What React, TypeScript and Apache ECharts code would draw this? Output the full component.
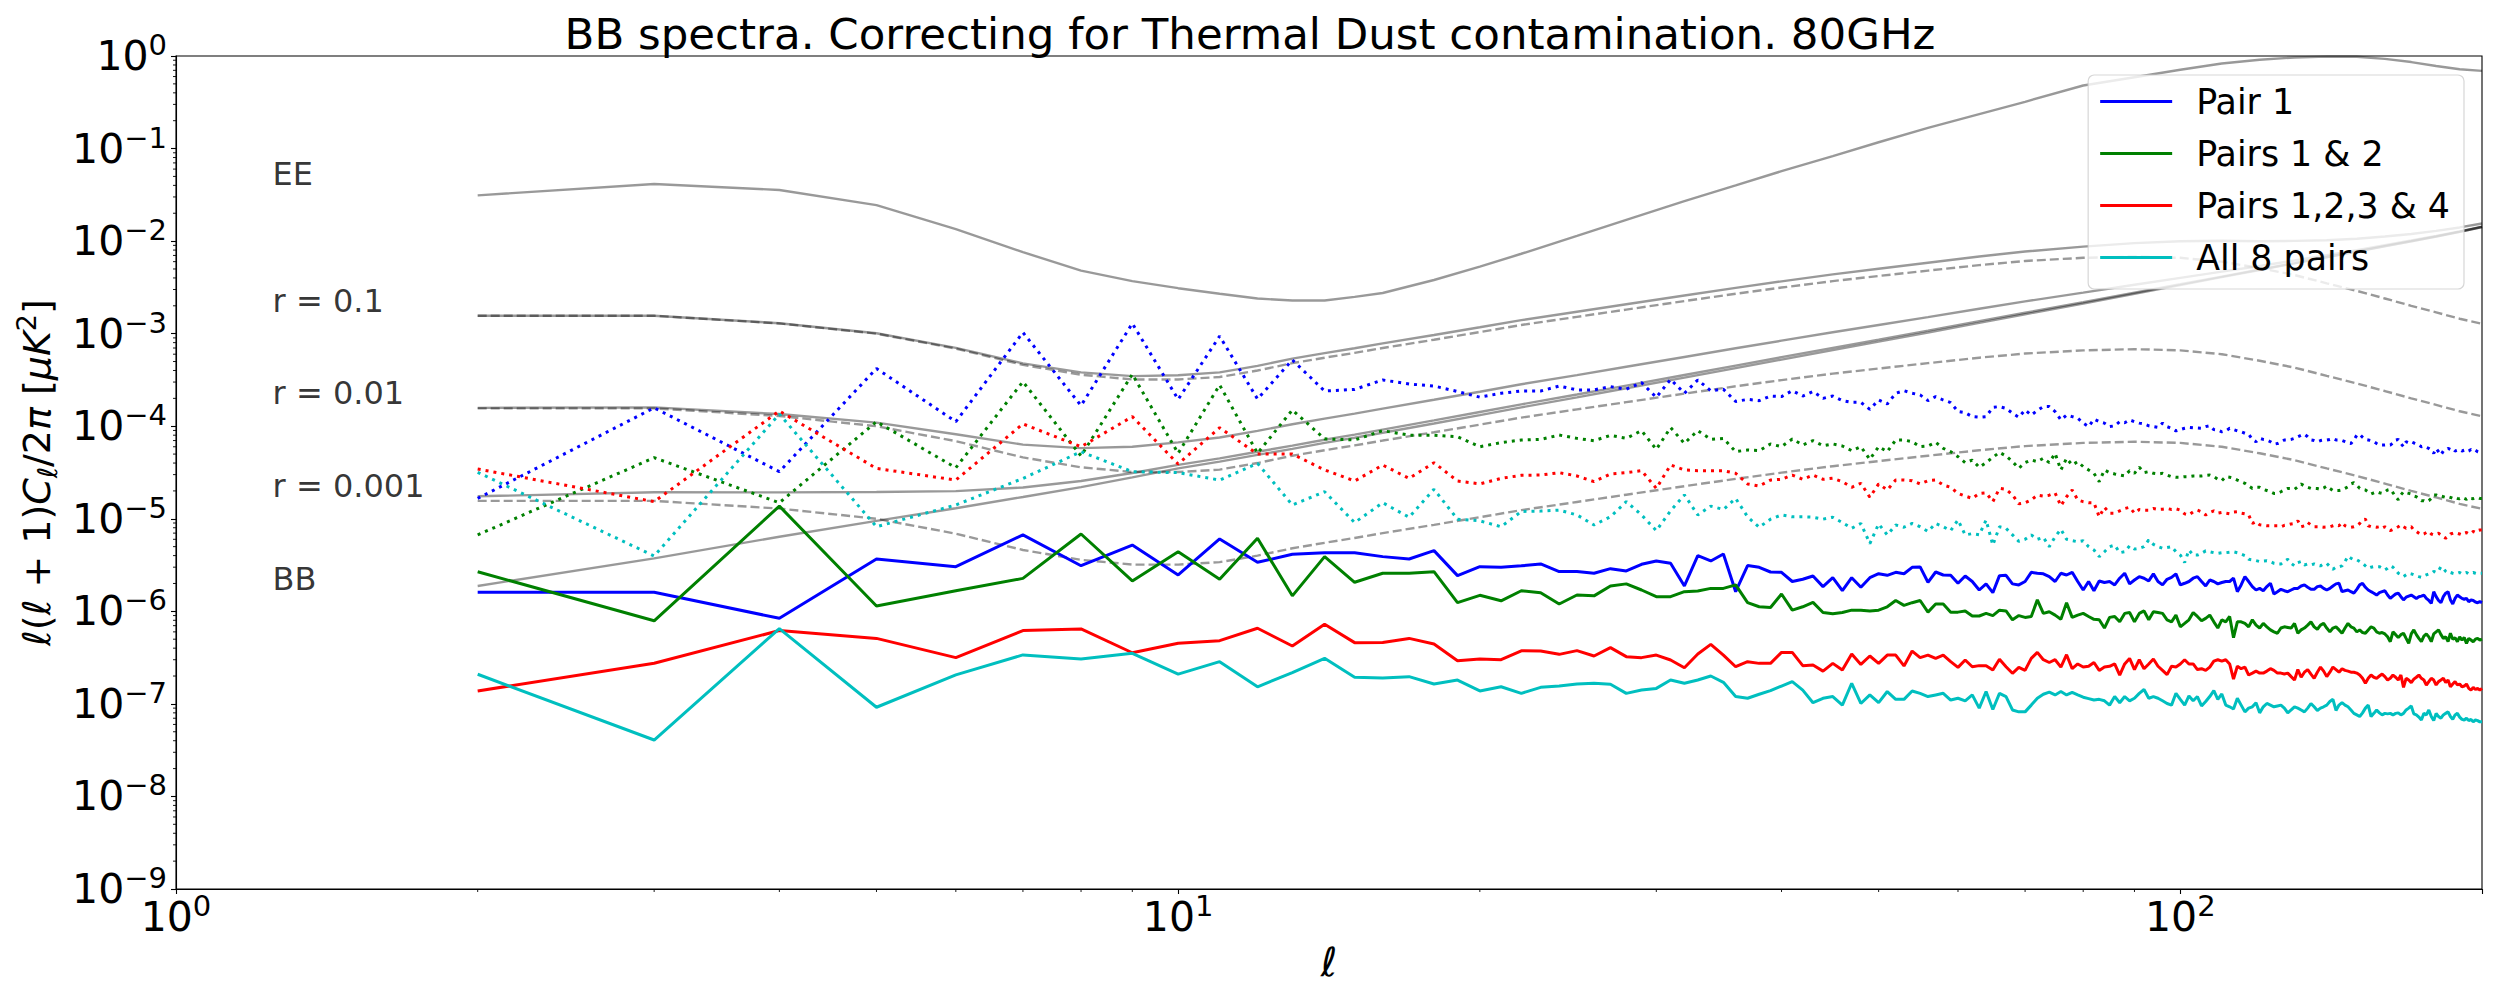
import React, { useEffect, useRef } from 'react';
import * as echarts from 'echarts';

const FONT = 'DejaVu Sans';

// multipoles of the measured spectra: l = 2 .. 200
const ELL: number[] = [];
for (let l = 2; l <= 200; l++) ELL.push(l);

// ---------- theory curves (sampled multipoles) ----------
const THEORY_ELL = [2,3,4,5,6,7,8,9,10,11,12,13,14,15,16,18,20,22,25,28,32,36,40,45,50,56,63,70,80,90,100,110,120,130,140,150,160,170,180,190,200];
const EE_TH = [0.0312,0.0414,0.0357,0.0245,0.0135,0.0076,0.0048,0.0037,0.0031,0.0027,0.0024,0.00228,0.00228,0.0025,0.00275,
  0.0038,0.0053,0.0073,0.0114,0.017,0.027,0.040,0.057,0.083,0.117,0.167,0.236,0.32,
  0.48,0.59,0.71,0.83,0.91,0.965,0.985,0.98,0.93,0.86,0.78,0.72,0.69];
const BB_LENS = [1.88e-6,3.74e-6,6.4e-6,9.5e-6,1.3e-5,1.72e-5,2.2e-5,2.8e-5,3.5e-5,4.15e-5,4.9e-5,5.7e-5,6.6e-5,7.5e-5,8.5e-5,
  1.07e-4,1.32e-4,1.6e-4,2.05e-4,2.57e-4,3.35e-4,4.25e-4,5.25e-4,6.65e-4,8.2e-4,1.03e-3,1.31e-3,1.62e-3,
  2.12e-3,2.7e-3,3.35e-3,4.08e-3,4.88e-3,5.75e-3,6.7e-3,7.7e-3,8.8e-3,9.95e-3,1.12e-2,1.26e-2,1.42e-2];
const BB_TENS_R01 = [1.56e-3,1.56e-3,1.29e-3,1.0e-3,6.9e-4,4.6e-4,3.6e-4,3.2e-4,3.2e-4,3.4e-4,4.0e-4,4.8e-4,5.5e-4,6.2e-4,7.0e-4,
  8.6e-4,1.04e-3,1.24e-3,1.52e-3,1.82e-3,2.25e-3,2.7e-3,3.15e-3,3.7e-3,4.2e-3,4.8e-3,5.5e-3,6.1e-3,
  6.6e-3,6.8e-3,6.6e-3,6.0e-3,5.1e-3,4.3e-3,3.5e-3,2.9e-3,2.4e-3,2.0e-3,1.7e-3,1.45e-3,1.28e-3];
const BB_TOT_R01 = [1.562e-3,1.564e-3,1.296e-3,1.01e-3,7.03e-4,4.77e-4,3.82e-4,3.48e-4,3.55e-4,3.815e-4,4.49e-4,5.37e-4,6.16e-4,6.95e-4,7.85e-4,
  9.67e-4,1.172e-3,1.40e-3,1.725e-3,2.077e-3,2.585e-3,3.125e-3,3.675e-3,4.365e-3,5.02e-3,5.83e-3,6.81e-3,7.72e-3,
  8.72e-3,9.5e-3,9.95e-3,1.008e-2,9.98e-3,1.005e-2,1.02e-2,1.06e-2,1.12e-2,1.195e-2,1.29e-2,1.405e-2,1.548e-2];
const BB_TENS_R001 = [1.56e-4,1.56e-4,1.29e-4,1.0e-4,6.9e-5,4.6e-5,3.6e-5,3.2e-5,3.2e-5,3.4e-5,4.0e-5,4.8e-5,5.5e-5,6.2e-5,7.0e-5,
  8.6e-5,1.04e-4,1.24e-4,1.52e-4,1.82e-4,2.25e-4,2.7e-4,3.15e-4,3.7e-4,4.2e-4,4.8e-4,5.5e-4,6.1e-4,
  6.6e-4,6.8e-4,6.6e-4,6.0e-4,5.1e-4,4.3e-4,3.5e-4,2.9e-4,2.4e-4,2.0e-4,1.7e-4,1.45e-4,1.28e-4];
const BB_TOT_R001 = [1.579e-4,1.597e-4,1.354e-4,1.095e-4,8.2e-5,6.32e-5,5.8e-5,6.0e-5,6.7e-5,7.55e-5,8.9e-5,1.05e-4,1.21e-4,1.37e-4,1.55e-4,
  1.93e-4,2.36e-4,2.84e-4,3.57e-4,4.39e-4,5.6e-4,6.95e-4,8.4e-4,1.035e-3,1.24e-3,1.51e-3,1.86e-3,2.23e-3,
  2.78e-3,3.38e-3,4.01e-3,4.68e-3,5.39e-3,6.18e-3,7.05e-3,7.99e-3,9.04e-3,1.015e-2,1.137e-2,1.2745e-2,1.4328e-2];
const BB_TENS_R0001 = [1.56e-5,1.56e-5,1.29e-5,1.0e-5,6.9e-6,4.6e-6,3.6e-6,3.2e-6,3.2e-6,3.4e-6,4.0e-6,4.8e-6,5.5e-6,6.2e-6,7.0e-6,
  8.6e-6,1.04e-5,1.24e-5,1.52e-5,1.82e-5,2.25e-5,2.7e-5,3.15e-5,3.7e-5,4.2e-5,4.8e-5,5.5e-5,6.1e-5,
  6.6e-5,6.8e-5,6.6e-5,6.0e-5,5.1e-5,4.3e-5,3.5e-5,2.9e-5,2.4e-5,2.0e-5,1.7e-5,1.45e-5,1.28e-5];
const BB_TOT_R0001 = [1.75e-5,1.934e-5,1.93e-5,1.95e-5,1.99e-5,2.18e-5,2.56e-5,3.12e-5,3.82e-5,4.49e-5,5.3e-5,6.18e-5,7.15e-5,8.12e-5,9.2e-5,
  1.156e-4,1.424e-4,1.724e-4,2.2e-4,2.75e-4,3.575e-4,4.52e-4,5.57e-4,7.02e-4,8.62e-4,1.078e-3,1.365e-3,1.681e-3,
  2.186e-3,2.768e-3,3.416e-3,4.14e-3,4.93e-3,5.79e-3,6.735e-3,7.73e-3,8.82e-3,9.97e-3,1.122e-2,1.261e-2,1.421e-2];

// ---------- residual spectra, one value per l (rows: l=2-9, 10-19, ..., 190-199, 200) ----------
const U6 = 1e-6, U7 = 1e-7, U5 = 1e-5;
// Pair 1, solid (units 1e-6)
const PAIR1_SOLID = [
  1.61,1.61,0.84,3.68,3.04,6.7,3.11,5.2,
  2.47,6.05,3.39,4.13,4.3,4.3,3.9,3.68,4.53,2.43,
  3.04,3.0,3.1,3.25,2.69,2.69,2.58,2.89,2.73,3.22,
  3.50,3.30,1.88,4.00,3.50,4.17,1.63,3.12,2.99,2.66,
  2.64,2.10,2.22,2.41,1.85,2.31,1.67,2.31,1.82,2.31,
  2.55,2.45,2.64,2.55,2.99,3.02,2.06,2.66,2.47,2.45,
  2.01,2.41,2.10,1.70,1.98,1.59,2.43,2.45,1.98,1.93,
  2.10,2.64,2.58,2.54,2.37,2.10,2.58,2.47,2.64,2.10,
  1.70,2.10,1.67,2.13,2.05,2.10,1.93,2.28,2.58,1.98,
  2.18,2.37,2.28,2.13,2.54,2.10,1.93,2.22,2.33,2.54,
  1.93,2.01,2.10,2.28,2.37,2.10,1.88,2.18,2.10,1.98,
  2.05,2.10,2.10,2.28,1.63,1.93,2.37,2.10,1.85,1.70,
  1.77,1.67,1.85,2.01,1.54,1.63,1.73,1.67,1.63,1.70,
  1.77,1.77,1.88,1.93,1.82,1.73,1.73,1.85,1.88,1.77,
  1.70,1.77,1.88,1.98,2.01,1.63,1.67,1.70,1.63,1.57,
  1.73,1.93,2.01,1.82,1.70,1.63,1.57,1.50,1.59,1.63,
  1.67,1.50,1.38,1.46,1.54,1.57,1.44,1.33,1.42,1.46,
  1.50,1.44,1.38,1.44,1.46,1.50,1.38,1.31,1.22,1.63,
  1.44,1.31,1.24,1.44,1.57,1.63,1.33,1.20,1.38,1.50,
  1.44,1.38,1.35,1.38,1.27,1.33,1.31,1.26,1.24,1.27,
  1.24];
// Pairs 1 & 2, solid (units 1e-6)
const PAIRS12_SOLID = [
  2.68,0.79,13.7,1.14,1.67,2.27,6.85,2.13,
  4.4,2.22,6.15,1.47,3.9,2.06,2.58,2.58,2.68,1.24,
  1.49,1.3,1.67,1.59,1.20,1.50,1.47,1.88,1.98,1.70,
  1.44,1.44,1.63,1.66,1.77,1.77,1.93,1.24,1.12,1.10,
  1.54,1.03,1.12,1.25,0.97,0.94,0.97,1.03,1.03,1.01,
  1.03,1.12,1.31,1.16,1.24,1.31,0.98,1.20,1.20,0.98,
  0.98,1.01,0.89,0.89,0.95,0.90,1.03,1.01,0.81,0.90,
  0.86,0.88,1.33,0.95,0.99,0.91,0.82,1.24,0.86,0.91,
  0.95,0.88,0.82,0.81,0.66,0.86,0.88,0.77,0.95,0.97,
  0.77,0.95,1.01,0.81,0.99,0.97,0.95,0.81,0.77,0.91,
  0.68,0.74,0.81,0.97,0.88,0.79,0.84,0.91,0.77,0.66,
  0.81,0.77,0.88,0.52,0.77,0.77,0.74,0.68,0.81,0.71,
  0.66,0.74,0.68,0.63,0.60,0.58,0.66,0.68,0.67,0.66,
  0.74,0.58,0.63,0.66,0.71,0.77,0.68,0.64,0.71,0.74,
  0.66,0.60,0.66,0.68,0.63,0.58,0.66,0.74,0.68,0.66,
  0.60,0.63,0.59,0.58,0.63,0.68,0.66,0.60,0.58,0.59,
  0.57,0.53,0.47,0.60,0.56,0.52,0.56,0.58,0.51,0.45,
  0.57,0.63,0.56,0.51,0.47,0.54,0.57,0.53,0.47,0.57,
  0.60,0.63,0.56,0.51,0.53,0.47,0.58,0.50,0.52,0.47,
  0.53,0.49,0.52,0.45,0.51,0.49,0.47,0.50,0.51,0.49,
  0.50];
// Pairs 1,2,3 & 4, solid (units 1e-7)
const PAIRS1234_SOLID = [
  1.38,2.75,6.2,5.1,3.16,6.2,6.45,3.57,
  4.52,4.82,6.56,4.22,7.25,4.59,4.6,5.1,4.44,2.93,
  3.05,3.0,3.75,3.72,3.43,3.76,3.29,4.05,3.24,3.16,
  3.37,2.98,2.46,3.46,4.40,3.37,2.52,2.86,2.74,2.74,
  3.60,3.60,2.59,2.63,2.26,2.74,2.32,3.46,2.67,3.29,
  2.74,3.37,3.37,2.57,3.72,3.16,3.37,3.10,3.37,2.86,
  2.48,2.98,2.52,2.59,2.59,2.32,3.03,2.52,2.14,2.48,
  2.3,3.1,3.6,3.0,2.8,3.0,2.5,3.4,2.4,2.7,
  2.5,2.55,2.8,2.3,2.5,2.55,2.7,2.05,2.7,3.1,
  2.35,3.0,2.4,2.7,3.05,2.55,2.3,2.07,2.55,2.5,
  2.7,3.0,2.7,2.7,2.35,2.4,2.3,2.5,2.9,3.0,
  2.9,3.0,2.7,1.85,2.55,2.4,2.5,2.05,2.15,2.26,
  2.15,2.15,2.26,2.4,2.3,2.15,2.15,2.1,2.15,1.97,
  1.81,2.35,1.94,2.2,2.35,2.1,1.89,2.2,2.5,2.26,
  1.97,2.2,2.5,2.35,2.2,2.4,2.3,2.26,2.2,2.2,
  2.15,2.05,1.89,1.67,1.89,2.05,1.94,1.89,2.0,2.1,
  1.97,1.81,1.89,2.05,1.94,1.81,2.05,1.51,1.89,1.81,
  1.70,1.85,1.94,2.05,1.89,1.81,1.60,1.74,1.89,1.81,
  1.60,1.74,1.81,1.89,1.70,1.81,1.53,1.64,1.74,1.60,
  1.64,1.53,1.56,1.64,1.47,1.41,1.51,1.43,1.47,1.41,
  1.47];
// All 8 pairs, solid (units 1e-7)
const ALL8_SOLID = [
  2.09,0.407,6.5,0.92,2.06,3.38,3.05,3.52,
  2.1,2.86,1.53,2.18,3.11,1.94,1.9,1.97,1.64,1.81,
  1.38,1.53,1.30,1.51,1.56,1.64,1.67,1.63,1.30,1.41,
  1.47,1.81,1.67,1.81,2.00,1.71,1.20,1.15,1.27,1.39,
  1.56,1.74,1.41,1.03,1.15,1.20,0.97,1.67,1.01,1.25,
  1.03,1.36,1.12,1.12,1.38,1.30,1.20,1.25,1.30,1.10,
  1.15,1.08,1.25,0.90,1.36,0.87,1.30,1.20,0.86,0.82,
  0.82,0.97,1.15,1.27,1.34,1.25,1.36,1.25,1.33,1.25,
  1.18,1.14,1.10,1.12,1.08,0.97,1.20,1.03,1.20,1.08,
  1.15,1.30,1.43,1.15,1.20,1.15,1.08,1.01,0.97,1.30,
  1.12,0.97,1.22,1.08,1.20,0.95,1.06,1.20,1.39,1.12,
  1.28,0.97,0.93,0.88,1.15,0.97,0.82,0.90,0.93,1.03,
  0.80,0.93,1.01,0.97,0.93,0.95,0.97,0.90,0.80,0.86,
  0.93,0.90,0.86,0.82,0.90,1.01,0.93,0.85,0.90,0.93,
  0.97,1.06,1.12,0.85,0.97,1.03,0.97,0.93,0.86,0.79,
  0.76,0.73,0.80,0.90,0.97,0.73,0.79,0.86,0.80,0.76,
  0.79,0.78,0.79,0.76,0.79,0.80,0.76,0.79,0.86,0.90,
  0.95,0.78,0.76,0.72,0.67,0.79,0.76,0.86,0.73,0.66,
  0.79,0.73,0.70,0.76,0.79,0.82,0.73,0.68,0.76,0.79,
  0.72,0.68,0.67,0.70,0.66,0.68,0.64,0.67,0.66,0.64,
  0.64];
// Pair 1, dotted (units 1e-5)
const PAIR1_DOTTED = [
  1.66,15.8,3.23,42,11.2,103,16.7,129,
  19.5,94,19.7,52,24,25,31.6,28.6,27.2,23.7,
  20.6,22.7,24.0,24.0,27.2,24.7,24.7,26.8,25.1,29.6,
  20.5,32.1,22.7,31.6,24.2,25.1,18.5,19.5,18.9,21.2,
  20.9,24.2,21.2,23.7,20.0,21.2,18.9,18.1,18.1,15.2,
  19.2,17.4,22.7,24.2,22.7,21.8,18.9,20.9,19.2,18.0,
  14.4,14.0,12.7,12.5,12.7,16.0,16.3,15.6,13.8,12.5,
  15.0,13.2,14.8,16.3,16.3,14.4,11.7,13.2,12.7,12.2,
  10.8,9.9,11.9,11.2,10.8,9.9,10.1,11.2,10.9,11.7,
  11.2,10.8,10.6,10.1,9.9,9.7,10.8,9.9,9.5,8.9,
  9.2,9.5,9.7,9.6,9.55,9.5,9.9,10.1,9.2,9.1,
  8.7,8.9,9.5,9.2,8.9,8.7,8.4,8.2,7.2,6.8,
  7.4,7.2,7.1,6.8,6.4,6.5,6.75,7.1,7.1,7.2,
  7.4,7.7,8.0,8.2,7.7,7.1,7.0,6.8,7.0,7.1,
  7.1,7.2,7.35,7.1,7.1,7.0,6.8,6.6,6.5,7.1,
  8.0,8.2,7.6,7.2,7.1,7.0,6.8,6.5,6.25,6.25,
  6.25,6.3,6.25,6.6,7.1,7.2,6.5,6.0,6.8,6.6,
  6.8,6.6,6.4,6.25,6.0,6.1,5.9,5.75,5.5,5.1,
  5.75,5.3,4.9,5.4,5.5,5.75,5.6,5.75,5.4,5.5,
  5.6,5.4,5.5,5.3,5.4,5.6,5.4,5.5,5.3,5.2,
  5.2];
// Pairs 1 & 2, dotted (units 1e-5)
const PAIRS12_DOTTED = [
  0.67,4.57,1.49,11.2,3.56,30.3,4.77,36.4,
  5.1,27.9,5.1,15.0,7.3,7.1,8.95,8.0,8.0,7.7,
  6.0,6.65,7.1,7.21,8.03,7.39,6.98,7.97,7.39,8.96,
  5.62,9.66,6.53,8.96,7.21,7.39,5.31,5.54,5.44,6.43,
  6.01,7.28,6.27,6.98,6.17,6.43,6.11,5.44,6.01,4.39,
  6.01,5.31,7.10,7.10,6.81,6.01,6.11,6.70,5.77,5.31,
  4.69,4.04,4.31,3.60,4.04,4.61,5.22,4.77,4.14,3.51,
  4.04,4.32,4.14,4.51,4.04,5.09,3.37,4.51,3.81,4.14,
  3.66,3.37,3.10,2.52,3.37,3.15,3.05,2.97,2.90,3.31,
  3.10,3.60,3.15,3.23,3.10,3.05,3.10,2.97,2.85,2.81,
  2.81,2.85,2.85,2.90,2.90,2.90,2.94,2.97,2.85,2.67,
  2.58,2.85,2.81,2.74,2.62,2.52,2.42,2.26,2.13,2.19,
  2.19,2.08,2.02,1.96,1.88,1.88,1.96,2.05,2.13,2.12,
  2.08,2.22,2.38,2.26,2.19,2.13,2.13,2.12,2.08,2.15,
  2.26,2.13,2.02,2.02,2.02,2.05,2.13,2.22,2.38,2.45,
  2.32,2.13,2.08,2.05,1.95,1.85,1.91,1.96,1.91,1.88,
  1.95,2.05,2.08,1.91,1.73,1.60,1.81,1.96,1.91,1.88,
  1.85,1.76,1.73,1.66,1.57,1.57,1.53,1.57,1.66,1.81,
  1.81,1.76,1.76,1.73,1.70,1.73,1.70,1.66,1.70,1.66,
  1.65,1.70,1.66,1.62,1.70,1.66,1.65,1.68,1.70,1.66,
  1.66];
// Pairs 1,2,3 & 4, dotted (units 1e-5)
const PAIRS1234_DOTTED = [
  3.45,1.53,14.6,3.5,2.62,10.6,6.0,12.7,
  3.9,9.65,5.0,5.0,3.37,2.56,3.81,2.73,4.04,2.56,
  2.38,2.73,2.95,2.97,3.15,2.90,2.52,3.05,3.15,3.31,
  2.13,3.81,3.37,3.31,3.31,3.31,3.10,2.38,2.26,2.62,
  2.67,2.97,2.67,2.97,2.67,2.74,2.52,2.19,2.42,1.71,
  2.38,2.05,2.62,2.62,2.58,2.38,2.58,2.62,2.32,2.19,
  1.88,1.76,1.66,1.88,1.91,1.53,2.13,2.08,1.81,1.45,
  1.49,1.60,1.80,1.76,1.80,1.90,1.38,1.73,2.05,1.60,
  1.53,1.49,1.49,1.05,1.33,1.15,1.15,1.22,1.29,1.33,
  1.15,1.26,1.24,1.24,1.29,1.26,1.27,1.29,1.26,1.28,
  1.24,1.13,1.10,1.19,1.24,1.19,1.10,1.17,1.22,1.15,
  1.17,1.15,1.13,1.18,1.19,1.15,1.13,1.10,0.89,0.93,
  0.86,0.85,0.84,0.84,0.84,0.84,0.82,0.85,0.86,0.88,
  0.89,0.95,0.82,0.84,0.91,0.86,0.82,0.82,0.82,0.81,
  0.815,0.82,0.84,0.86,0.84,0.91,0.84,0.82,0.81,0.82,
  0.84,0.89,0.97,0.99,0.84,0.82,0.82,0.81,0.82,0.79,
  0.82,0.79,0.745,0.77,0.79,0.82,0.86,0.82,0.79,0.81,
  0.82,0.757,0.73,0.697,0.67,0.685,0.71,0.73,0.685,0.67,
  0.685,0.697,0.67,0.64,0.615,0.64,0.685,0.697,0.71,0.697,
  0.685,0.67,0.697,0.71,0.685,0.697,0.73,0.71,0.745,0.757,
  0.757];
// All 8 pairs, dotted (units 1e-5)
const ALL8_DOTTED = [
  3.18,0.396,13.5,0.82,1.41,2.73,5.3,3.23,
  3.15,2.62,3.97,1.41,1.96,0.91,1.49,1.04,2.08,0.99,
  0.95,0.82,1.2,1.21,1.24,1.10,0.857,1.05,1.53,1.10,
  0.745,1.22,1.81,1.10,1.37,1.26,1.66,1.05,0.81,0.99,
  1.10,1.05,1.05,1.04,0.99,1.04,0.91,0.79,0.89,0.54,
  0.88,0.67,0.857,0.81,0.89,0.82,0.73,0.89,0.82,0.745,
  0.97,0.67,0.69,0.67,0.97,0.52,0.82,0.79,0.67,0.57,
  0.60,0.67,0.60,0.63,0.50,0.64,0.77,0.60,0.58,0.565,
  0.58,0.50,0.46,0.39,0.44,0.50,0.52,0.43,0.44,0.51,
  0.47,0.48,0.50,0.59,0.53,0.50,0.48,0.49,0.50,0.44,
  0.405,0.336,0.46,0.405,0.405,0.424,0.45,0.44,0.43,0.424,
  0.43,0.43,0.435,0.44,0.43,0.415,0.40,0.365,0.36,0.353,
  0.345,0.35,0.353,0.345,0.33,0.325,0.325,0.345,0.365,0.33,
  0.31,0.336,0.345,0.317,0.325,0.317,0.325,0.315,0.31,0.325,
  0.33,0.304,0.285,0.30,0.304,0.31,0.345,0.395,0.375,0.36,
  0.36,0.345,0.33,0.31,0.292,0.30,0.304,0.304,0.304,0.292,
  0.28,0.292,0.31,0.30,0.28,0.258,0.248,0.237,0.248,0.258,
  0.254,0.248,0.242,0.237,0.233,0.242,0.248,0.254,0.258,0.27,
  0.263,0.275,0.304,0.292,0.27,0.258,0.263,0.258,0.254,0.258,
  0.263,0.254,0.258,0.263,0.254,0.258,0.263,0.258,0.254,0.258,
  0.258];

const LEGEND_NAMES = ['Pair 1', 'Pairs 1 & 2', 'Pairs 1,2,3 & 4', 'All 8 pairs'];
const COLORS = ['#0000ff', '#008000', '#ff0000', '#00bfbf'];

// text annotations (data coordinates, baseline-left)
const ANNOT_TEXT = ['EE', 'r = 0.1', 'r = 0.01', 'r = 0.001', 'BB'];
const ANNOT_Y = [4e-2, 1.7e-3, 1.7e-4, 1.7e-5, 1.7e-6];
const ANNOT_X = 1.25;

// tick positions
const MINOR_MANTISSAS = [2, 3, 4, 5, 6, 7, 8, 9];
const X_MINOR_DECADES = [0, 1];
const Y_MINOR_DECADES = [-9, -8, -7, -6, -5, -4, -3, -2, -1];
const X_MIN = 1, X_MAX = 200, Y_MIN = 1e-9, Y_MAX = 1;

const X_MINOR = X_MINOR_DECADES.flatMap((d) => MINOR_MANTISSAS.map((m) => m * Math.pow(10, d)));
const Y_MINOR = Y_MINOR_DECADES.flatMap((d) => MINOR_MANTISSAS.map((m) => m * Math.pow(10, d)));

const powLabel = (v: number) => {
  const e = Math.log10(v);
  const r = Math.round(e);
  if (Math.abs(e - r) > 1e-6) return '';
  return `{b|10}{s|${r < 0 ? '\u2212' + -r : r}}`;
};
const tickRich = {
  b: { fontSize: 41, lineHeight: 51, fontFamily: FONT, color: '#000' },
  s: { fontSize: 29, lineHeight: 29, verticalAlign: 'top', fontFamily: FONT, color: '#000' },
};

const toPairs = (arr: number[], unit: number) => ELL.map((l, i) => [l, arr[i] * unit]);
const theoryPairs = (arr: number[]) => THEORY_ELL.map((l, i) => [l, arr[i]]);

const GRAY = 'rgba(0,0,0,0.4)';
const theoryLine = (arr: number[], dashed: boolean) => ({
  type: 'line',
  data: theoryPairs(arr),
  symbol: 'none',
  showSymbol: false,
  silent: true,
  z: 2,
  lineStyle: { color: GRAY, width: 2.4, type: dashed ? [9, 4] : 'solid' },
  emphasis: { disabled: true },
});

const dataLine = (arr: number[], unit: number, color: string, dotted: boolean, name?: string) => ({
  type: 'line',
  name,
  data: toPairs(arr, unit),
  symbol: 'none',
  showSymbol: false,
  silent: true,
  z: 3,
  itemStyle: { color },
  lineStyle: { color, width: 3, type: dotted ? [3, 5] : 'solid' },
  emphasis: { disabled: true },
});

const minorTickSeries = (values: number[], axis: 'x' | 'y') => ({
  type: 'custom',
  coordinateSystem: 'cartesian2d',
  data: values.map((v) => (axis === 'x' ? [v, Y_MIN] : [X_MIN, v])),
  clip: false,
  silent: true,
  z: 5,
  renderItem: (_params: any, api: any) => {
    const p = api.coord([api.value(0), api.value(1)]);
    const shape = axis === 'x'
      ? { x1: p[0], y1: p[1], x2: p[0], y2: p[1] + 3 }
      : { x1: p[0] - 3, y1: p[1], x2: p[0], y2: p[1] };
    return { type: 'line', shape, style: { stroke: '#000', lineWidth: 0.9 } };
  },
});

const yName = '{i|\u2113}{n|(}{i|\u2113}{n| + 1)}{i|C}{sb|\u2113}{n|/2}{i|\u03c0}{n| [}{i|\u03bcK}{sp|2}{n|]}';

function buildOption() {
  return {
    animation: false,
    backgroundColor: '#ffffff',
    textStyle: { fontFamily: FONT, color: '#000' },
    title: {
      text: 'BB spectra. Correcting for Thermal Dust contamination. 80GHz',
      left: 'center',
      top: 12,
      padding: 0,
      textStyle: { fontSize: 43.5, fontWeight: 'normal', fontFamily: FONT, color: '#000', lineHeight: 43 },
    },
    grid: { left: 176, right: 18, top: 56, bottom: 111, show: true, borderColor: '#000', borderWidth: 1.1, backgroundColor: 'transparent' },
    legend: {
      data: LEGEND_NAMES,
      orient: 'vertical',
      right: 36,
      top: 75,
      icon: 'rect',
      itemWidth: 72,
      itemHeight: 3,
      itemGap: 11,
      padding: [6, 14, 11, 12],
      backgroundColor: 'rgba(255,255,255,0.8)',
      borderColor: 'rgba(204,204,204,0.8)',
      borderWidth: 1.2,
      borderRadius: 6,
      selectedMode: false,
      textStyle: { fontSize: 34.8, lineHeight: 41, fontFamily: FONT, color: '#000', padding: [0, 0, 0, 19] },
    },
    xAxis: {
      type: 'log',
      logBase: 10,
      min: X_MIN,
      max: X_MAX,
      name: '\u2113',
      nameLocation: 'middle',
      nameGap: 53,
      nameTextStyle: { fontSize: 40, fontStyle: 'italic', fontFamily: FONT, color: '#000', lineHeight: 40 },
      axisLine: { show: true, onZero: false, lineStyle: { color: '#000', width: 1.1 } },
      axisTick: { show: true, length: 5, lineStyle: { color: '#000', width: 1.1 } },
      splitLine: { show: false },
      minorTick: { show: false },
      axisLabel: { margin: 2, formatter: powLabel, rich: tickRich, interval: 0 },
    },
    yAxis: {
      type: 'log',
      logBase: 10,
      min: Y_MIN,
      max: Y_MAX,
      name: yName,
      nameLocation: 'middle',
      nameRotate: 90,
      nameGap: 113,
      nameTextStyle: {
        rich: {
          n: { fontSize: 38, lineHeight: 48, fontFamily: FONT, color: '#000' },
          i: { fontSize: 38, lineHeight: 48, fontStyle: 'italic', fontFamily: FONT, color: '#000' },
          sb: { fontSize: 27, lineHeight: 27, fontStyle: 'italic', verticalAlign: 'bottom', fontFamily: FONT, color: '#000' },
          sp: { fontSize: 27, lineHeight: 27, verticalAlign: 'top', fontFamily: FONT, color: '#000' },
        },
      },
      axisLine: { show: true, onZero: false, lineStyle: { color: '#000', width: 1.1 } },
      axisTick: { show: true, length: 5, lineStyle: { color: '#000', width: 1.1 } },
      splitLine: { show: false },
      minorTick: { show: false },
      axisLabel: { margin: 9, formatter: powLabel, rich: tickRich, interval: 0 },
    },
    series: [
      theoryLine(EE_TH, false),
      theoryLine(BB_TENS_R01, true),
      theoryLine(BB_TOT_R01, false),
      theoryLine(BB_TENS_R001, true),
      theoryLine(BB_TOT_R001, false),
      theoryLine(BB_TENS_R0001, true),
      theoryLine(BB_TOT_R0001, false),
      theoryLine(BB_LENS, false),
      dataLine(PAIR1_SOLID, U6, COLORS[0], false, LEGEND_NAMES[0]),
      dataLine(PAIR1_DOTTED, U5, COLORS[0], true),
      dataLine(PAIRS12_SOLID, U6, COLORS[1], false, LEGEND_NAMES[1]),
      dataLine(PAIRS12_DOTTED, U5, COLORS[1], true),
      dataLine(PAIRS1234_SOLID, U7, COLORS[2], false, LEGEND_NAMES[2]),
      dataLine(PAIRS1234_DOTTED, U5, COLORS[2], true),
      dataLine(ALL8_SOLID, U7, COLORS[3], false, LEGEND_NAMES[3]),
      dataLine(ALL8_DOTTED, U5, COLORS[3], true),
      {
        type: 'scatter',
        data: ANNOT_TEXT.map((t, i) => [ANNOT_X, ANNOT_Y[i], t]),
        symbolSize: 1,
        silent: true,
        z: 6,
        itemStyle: { color: 'rgba(0,0,0,0)' },
        label: {
          show: true,
          position: [0, 0],
          align: 'left',
          verticalAlign: 'bottom',
          offset: [0, 5],
          formatter: (p: any) => p.data[2],
          fontSize: 32,
          fontFamily: FONT,
          color: '#000',
        },
        emphasis: { disabled: true },
      },
      minorTickSeries(X_MINOR, 'x'),
      minorTickSeries(Y_MINOR, 'y'),
    ],
  };
}

export default function App() {
  const ref = useRef<HTMLDivElement>(null);
  useEffect(() => {
    if (!ref.current) return;
    const chart = echarts.init(ref.current, null, { renderer: 'svg' });
    chart.setOption(buildOption() as any);
    return () => chart.dispose();
  }, []);
  return (
    <div
      ref={ref}
      style={{ position: 'fixed', left: 0, top: 0, width: 2500, height: 1000, background: '#fff' }}
    />
  );
}
